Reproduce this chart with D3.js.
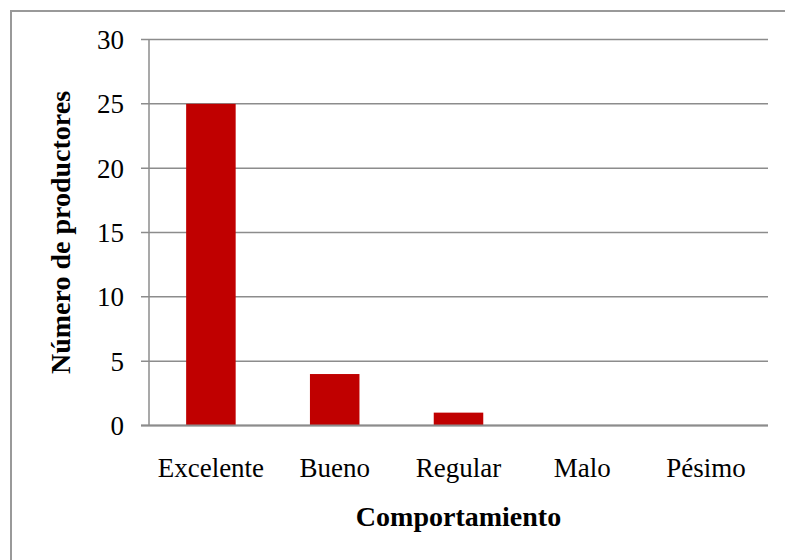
<!DOCTYPE html>
<html>
<head>
<meta charset="utf-8">
<script src="https://cdn.jsdelivr.net/npm/d3@7"></script>
<style>
  html, body { margin: 0; padding: 0; background: #fff; }
  svg text { font-family: "Liberation Serif", "DejaVu Serif", serif; fill: #000; }
</style>
</head>
<body>
<svg id="chart" width="785" height="560"></svg>
<script>
// Producers by behaviour rating
const categories = ["Excelente", "Bueno", "Regular", "Malo", "Pésimo"];
const productores = [25, 4, 1, 0, 0];
const yTicks = [0, 5, 10, 15, 20, 25, 30];
const xTitle = "Comportamiento";
const yTitle = "Número de productores";

const svg = d3.select("#chart");

// outer frame
svg.append("rect")
  .attr("x", 11).attr("y", 11)
  .attr("width", 800).attr("height", 600)
  .attr("fill", "none").attr("stroke", "#999").attr("stroke-width", 2);

const plot = { left: 149, right: 768, top: 39.5, bottom: 425.5 };

const x = d3.scaleBand()
  .domain(categories)
  .range([plot.left, plot.right])
  .paddingInner(0.6)
  .paddingOuter(0.3);

const y = d3.scaleLinear()
  .domain([0, 30])
  .range([plot.bottom, plot.top]);

// horizontal gridlines with tick marks
svg.append("g")
  .selectAll("line")
  .data(yTicks)
  .join("line")
  .attr("x1", plot.left - 8)
  .attr("x2", plot.right)
  .attr("y1", d => y(d))
  .attr("y2", d => y(d))
  .attr("stroke", "#8c8c8c")
  .attr("stroke-width", 1.5);

// bars
svg.append("g")
  .selectAll("rect")
  .data(categories.map((c, i) => ({ c, v: productores[i] })))
  .join("rect")
  .attr("x", d => x(d.c))
  .attr("width", x.bandwidth())
  .attr("y", d => y(d.v))
  .attr("height", d => y(0) - y(d.v))
  .attr("fill", "#c00000");

// baseline and vertical axis line
svg.append("line")
  .attr("x1", plot.left).attr("x2", plot.left)
  .attr("y1", plot.top).attr("y2", plot.bottom)
  .attr("stroke", "#8c8c8c").attr("stroke-width", 1.5);
svg.append("line")
  .attr("x1", plot.left - 8).attr("x2", plot.right)
  .attr("y1", y(0)).attr("y2", y(0))
  .attr("stroke", "#8c8c8c").attr("stroke-width", 2);

// y tick labels
svg.append("g")
  .selectAll("text")
  .data(yTicks)
  .join("text")
  .attr("x", 124)
  .attr("y", d => y(d))
  .attr("dy", "0.35em")
  .attr("text-anchor", "end")
  .attr("font-size", 27)
  .text(d => d);

// category labels
svg.append("g")
  .selectAll("text")
  .data(categories)
  .join("text")
  .attr("x", d => x(d) + x.bandwidth() / 2)
  .attr("y", 477)
  .attr("text-anchor", "middle")
  .attr("font-size", 27)
  .text(d => d);

// axis titles
svg.append("text")
  .attr("x", x(categories[2]) + x.bandwidth() / 2)
  .attr("y", 526)
  .attr("text-anchor", "middle")
  .attr("font-size", 28)
  .attr("font-weight", "bold")
  .text(xTitle);

svg.append("text")
  .attr("transform", `translate(70, ${(plot.top + plot.bottom) / 2}) rotate(-90)`)
  .attr("text-anchor", "middle")
  .attr("font-size", 28)
  .attr("font-weight", "bold")
  .text(yTitle);
</script>
</body>
</html>
